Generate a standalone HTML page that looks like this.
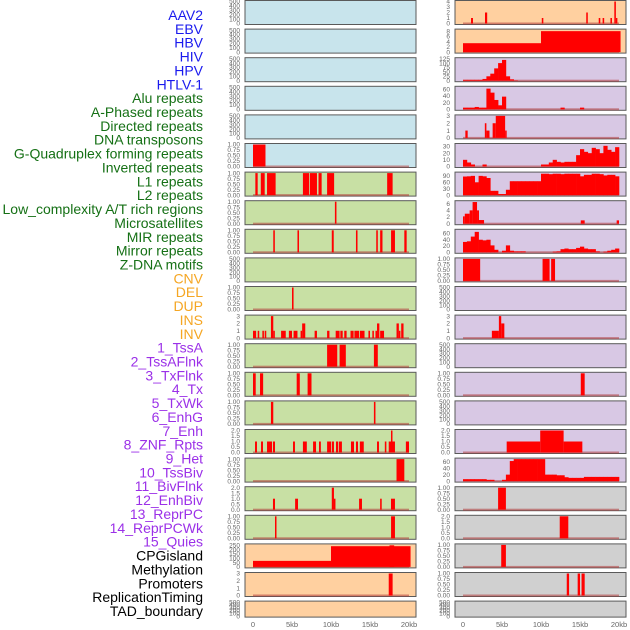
<!DOCTYPE html>
<html><head><meta charset="utf-8"><style>
html,body{margin:0;padding:0;background:#fff;width:630px;height:630px;overflow:hidden}
svg{display:block;font-family:"Liberation Sans",sans-serif}
</style></head><body>
<svg id="chart" width="630" height="630" viewBox="0 0 630 630"></svg>
<script>
// ---------- data ----------
const trackLabels = ["AAV2","EBV","HBV","HIV","HPV","HTLV-1","Alu repeats","A-Phased repeats","Directed repeats","DNA transposons","G-Quadruplex forming repeats","Inverted repeats","L1 repeats","L2 repeats","Low_complexity A/T rich regions","Microsatellites","MIR repeats","Mirror repeats","Z-DNA motifs","CNV","DEL","DUP","INS","INV","1_TssA","2_TssAFlnk","3_TxFlnk","4_Tx","5_TxWk","6_EnhG","7_Enh","8_ZNF_Rpts","9_Het","10_TssBiv","11_BivFlnk","12_EnhBiv","13_ReprPC","14_ReprPCWk","15_Quies","CPGisland","Methylation","Promoters","ReplicationTiming","TAD_boundary"];
const labelGroups = ["virus","virus","virus","virus","virus","virus","repeat","repeat","repeat","repeat","repeat","repeat","repeat","repeat","repeat","repeat","repeat","repeat","repeat","sv","sv","sv","sv","sv","chrom","chrom","chrom","chrom","chrom","chrom","chrom","chrom","chrom","chrom","chrom","chrom","chrom","chrom","chrom","other","other","other","other","other"];
const xTickValues = [0,5,10,15,20];
const xTickLabels = ["0","5kb","10kb","15kb","20kb"];
const ticks500 = ["0","100","200","300","400","500"];
const ticks1 = ["0.00","0.25","0.50","0.75","1.00"];
const ticks2 = ["0.0","0.5","1.0","1.5","2.0"];
const ticks3 = ["0","1","2","3"];
// intervals: [startKb, endKb, value]
const htlvBars = [[0,1.6,1]];
const aluBars = [[0.3,0.6,1],[1.0,1.5,1],[1.8,2.9,1],[6.4,7.2,1],[7.3,8.2,1],[8.4,8.8,1],[9.5,10.4,1],[17.2,17.9,1]];
const aphasedBars = [[10.5,10.7,1]];
const directedBars = [[2.6,2.8,1],[5.7,5.9,1],[10.1,10.35,1],[13.2,13.4,1],[15.8,16,1],[16.3,16.6,1],[17.7,18.2,1],[19.4,19.7,1]];
const gquadBars = [[5.0,5.2,1]];
const invertedBars = [[0,0.4,1],[0.6,0.8,1],[1.2,1.4,1],[1.5,1.7,1],[2.3,2.6,3],[2.6,2.8,1],[3.6,4.2,1],[4.6,5.0,1],[5.2,5.7,1],[6.1,6.3,1],[6.3,6.7,2],[7.9,8.2,1],[9.5,9.8,1],[10.6,11.1,1],[11.2,11.5,1],[11.7,12.0,1],[12.5,12.9,1],[13.0,13.6,1],[13.7,14.3,1],[14.8,15.0,1],[15.3,15.5,1],[15.7,15.9,1],[15.9,16.2,2],[16.3,16.8,1],[18.4,18.7,2],[18.7,18.9,1],[19.0,19.3,2]];
const l1Bars = [[9.5,10.8,1],[11.1,11.9,1],[15.5,16.0,1]];
const l2Bars = [[0,0.35,1],[0.9,1.3,1],[5.6,6.0,1],[7.0,7.5,1]];
const lowCompBars = [[2.3,2.6,1],[15.5,15.7,1]];
const microBars = [[0.26,0.51,1],[1.03,1.28,1],[1.8,2.05,1],[2.05,2.44,1],[2.56,2.82,1],[5.13,5.38,1],[6.4,6.9,1],[7.7,8.08,1],[8.46,8.7,1],[9.5,10.0,1],[10.1,10.38,1],[10.64,10.9,1],[11.0,11.4,1],[12.56,12.95,1],[13.2,13.46,1],[13.7,14.2,1],[15.9,16.15,1],[16.9,17.1,1],[17.4,18.2,1],[17.69,17.82,2],[19.6,20.0,1]];
const mirBars = [[18.4,19.4,1]];
const mirrorBars = [[2.56,2.82,1],[5.4,5.77,1],[10.1,10.38,2],[10.38,10.5,1],[13.6,13.97,1],[16.3,16.5,1],[17.69,18.2,1]];
const zdnaBars = [[2.82,3.0,1],[17.7,18.2,1]];
const cnvBars = [[0,10,70],[10,20.2,240],[17.5,18.1,250]];
const delBars = [[17.4,17.9,3]];
const insBars = [[1.03,1.28,1],[2.82,3.1,2],[10.1,10.3,1],[15.8,16.0,2],[17.4,17.6,1],[17.9,18.1,1],[18.9,19.1,1],[19.4,19.6,4],[19.6,19.75,1]];
const invBars = [[0,10,3.4],[10,20.2,8]];
// 0.5kb bins from 0 to 20kb
const tssaBins = [5,5,5,5,5,10,25,40,70,100,118,25,8,2,0,0,0,0,0,0,0,0,0,0,0,0,0,0,0,0,0,0,0,0,0,0,0,0,0,0];
const tssaflnkBins = [5,5,5,7,5,5,62,50,28,12,38,0,0,0,0,0,0,0,0,0,0,0,0,0,0,5,0,0,0,0,5,0,0,0,0,0,0,0,0,0];
const txflnkBars = [[0.3,0.6,1],[2.8,3.0,2],[3.0,3.4,1],[3.8,4.2,2],[4.2,5.4,3],[5.4,5.6,1]];
const txBins = [10,6,3,0,0,3,0,0,0,0,0,0,0,0,0,0,0,0,0,0,3,3,6,10,7,6,7,7,7,17,26,22,20,28,26,20,31,25,22,29];
const txwkBins = [87,88,90,60,90,88,80,20,20,5,5,25,65,65,65,65,65,65,65,65,100,100,98,100,100,98,100,100,100,100,88,95,95,100,100,98,92,95,95,88];
const enhgBars = [[0,0.23,2.2],[0.23,0.85,3],[0.85,1.23,4],[1.23,1.8,6.5],[1.8,2.05,4],[2.05,2.7,1.1],[15.1,15.6,1],[19.7,20,1]];
const enhBins = [33,35,50,65,40,38,40,22,8,0,5,22,5,3,3,3,0,0,0,0,0,0,0,2,3,10,12,10,10,14,18,12,10,10,3,0,2,5,8,12];
const znfBars = [[0,2.2,1],[10.2,11.1,1],[11.3,11.8,1]];
const tssbivBars = [[3.7,4.6,1],[4.6,4.9,3],[4.9,5.3,2]];
const enhbivBars = [[15.1,15.6,1]];
const reprpcwkBars = [[5.6,9.9,1],[9.9,12.9,2],[12.9,15.3,1]];
const quiesBins = [6,6,6,6,6,6,4,4,0,0,4,20,62,68,68,68,68,68,68,68,68,20,20,20,18,18,12,10,10,10,10,13,13,13,13,13,13,13,13,13];
const cpgBars = [[4.5,5.5,1]];
const methBars = [[12.4,13.5,2]];
const promoterBars = [[4.9,5.5,1]];
const replBars = [[13.3,13.6,1],[14.7,15.0,1],[15.2,15.6,1]];

// ---------- layout config ----------
const BG = {virus:"#c8e4ec", repeat:"#c8e0a4", sv:"#ffd0a0", chrom:"#d8c8e4", other:"#d0d0d0"};
const LABEL_COLOR = {virus:"#1a1aee", repeat:"#157015", sv:"#f5a623", chrom:"#9b30e8", other:"#000"};
const panels = [
 {col:0,row:0,g:"virus",ticks:ticks500,ymax:500},
 {col:0,row:1,g:"virus",ticks:ticks500,ymax:500},
 {col:0,row:2,g:"virus",ticks:ticks500,ymax:500},
 {col:0,row:3,g:"virus",ticks:ticks500,ymax:500},
 {col:0,row:4,g:"virus",ticks:ticks500,ymax:500},
 {col:0,row:5,g:"virus",ticks:ticks1,ymax:1,bars:htlvBars},
 {col:0,row:6,g:"repeat",ticks:ticks1,ymax:1,bars:aluBars},
 {col:0,row:7,g:"repeat",ticks:ticks1,ymax:1,bars:aphasedBars},
 {col:0,row:8,g:"repeat",ticks:ticks1,ymax:1,bars:directedBars},
 {col:0,row:9,g:"repeat",ticks:ticks500,ymax:500},
 {col:0,row:10,g:"repeat",ticks:ticks1,ymax:1,bars:gquadBars},
 {col:0,row:11,g:"repeat",ticks:ticks3,ymax:3,bars:invertedBars},
 {col:0,row:12,g:"repeat",ticks:ticks1,ymax:1,bars:l1Bars},
 {col:0,row:13,g:"repeat",ticks:ticks1,ymax:1,bars:l2Bars},
 {col:0,row:14,g:"repeat",ticks:ticks1,ymax:1,bars:lowCompBars},
 {col:0,row:15,g:"repeat",ticks:ticks2,ymax:2,bars:microBars},
 {col:0,row:16,g:"repeat",ticks:ticks1,ymax:1,bars:mirBars},
 {col:0,row:17,g:"repeat",ticks:ticks2,ymax:2,bars:mirrorBars},
 {col:0,row:18,g:"repeat",ticks:ticks1,ymax:1,bars:zdnaBars},
 {col:0,row:19,g:"sv",ticks:["0","50","100","150","200","250"],ymax:255,bars:cnvBars},
 {col:0,row:20,g:"sv",ticks:ticks3,ymax:3,bars:delBars},
 {col:0,row:21,g:"sv",ticks:ticks500,ymax:500},
 {col:1,row:0,g:"sv",ticks:["0","1","2","3","4"],ymax:4,bars:insBars},
 {col:1,row:1,g:"sv",ticks:["0","2","4","6","8"],ymax:8.4,bars:invBars},
 {col:1,row:2,g:"chrom",ticks:["0","25","50","75","100","125"],ymax:125,bins:tssaBins},
 {col:1,row:3,g:"chrom",ticks:["0","20","40","60"],ymax:66,bins:tssaflnkBins},
 {col:1,row:4,g:"chrom",ticks:ticks3,ymax:3,bars:txflnkBars},
 {col:1,row:5,g:"chrom",ticks:["0","10","20","30"],ymax:33,bins:txBins},
 {col:1,row:6,g:"chrom",ticks:["0","30","60","90"],ymax:103,bins:txwkBins},
 {col:1,row:7,g:"chrom",ticks:["0","2","4","6"],ymax:6.6,bars:enhgBars},
 {col:1,row:8,g:"chrom",ticks:["0","20","40","60"],ymax:70,bins:enhBins},
 {col:1,row:9,g:"chrom",ticks:ticks1,ymax:1,bars:znfBars},
 {col:1,row:10,g:"chrom",ticks:ticks500,ymax:500},
 {col:1,row:11,g:"chrom",ticks:ticks3,ymax:3,bars:tssbivBars},
 {col:1,row:12,g:"chrom",ticks:ticks500,ymax:500},
 {col:1,row:13,g:"chrom",ticks:ticks1,ymax:1,bars:enhbivBars},
 {col:1,row:14,g:"chrom",ticks:ticks500,ymax:500},
 {col:1,row:15,g:"chrom",ticks:ticks2,ymax:2,bars:reprpcwkBars},
 {col:1,row:16,g:"chrom",ticks:["0","20","40","60"],ymax:68,bins:quiesBins},
 {col:1,row:17,g:"other",ticks:ticks1,ymax:1,bars:cpgBars},
 {col:1,row:18,g:"other",ticks:ticks2,ymax:2,bars:methBars},
 {col:1,row:19,g:"other",ticks:ticks1,ymax:1,bars:promoterBars},
 {col:1,row:20,g:"other",ticks:ticks1,ymax:1,bars:replBars},
 {col:1,row:21,g:"other",ticks:ticks500,ymax:500}
];

const NS = "http://www.w3.org/2000/svg";
const svg = document.getElementById("chart");
function mk(tag, attrs, parent){
  const e = document.createElementNS(NS, tag);
  for (const k in attrs) e.setAttribute(k, attrs[k]);
  (parent||svg).appendChild(e);
  return e;
}
const COL_X = [245, 455];
const PW = 171;
function xScale(col, kb){ return COL_X[col] + 8 + kb * 7.8; }
function rowTop(r){ return 0.5 + r * 28.6; }
function rowH(r){ return r === 21 ? 16 : 24; }
function yScale(p, v){
  const top = rowTop(p.row), h = rowH(p.row);
  return top + h - 1 - (v / p.ymax) * (h - 2);
}

// labels
trackLabels.forEach((t, i) => {
  const el = mk("text", {x:203, y:15 + i*13.86 + 5, "text-anchor":"end", "font-size":"14", fill:LABEL_COLOR[labelGroups[i]]});
  el.textContent = t;
  
  
});

// panels
panels.forEach((p, idx) => {
  const g = mk("g", {});
  
  
  const top = rowTop(p.row), h = rowH(p.row);
  const bg = mk("rect", {x:COL_X[p.col], y:top, width:PW, height:h, fill:BG[p.g], stroke:"#5a5a5a", "stroke-width":1}, g);
  
  
  // ticks
  const n = p.ticks.length;
  p.ticks.forEach((t) => {
    const v = parseFloat(t);
    const ty = yScale(p, v);
    const tx = mk("text", {x:COL_X[p.col]-5, y:ty+2.2, "text-anchor":"end", "font-size":"6.5", fill:"#666"}, g);
    tx.textContent = t;
    
    
  });
  const hasData = p.bars || p.bins;
  if (hasData) {
    const base = mk("rect", {x:xScale(p.col,0), y:yScale(p,0)-1, width:xScale(p.col,20)-xScale(p.col,0), height:2, fill:"#b03a3a", opacity:0.55}, g);
    
    
  }
  if (p.bins) {
    p.bins.forEach((v, i) => {
      if (v <= 0) return;
      const x0 = xScale(p.col, i*0.5), x1 = xScale(p.col, (i+1)*0.5);
      const y0 = yScale(p, v), yb = yScale(p, 0);
      const r = mk("rect", {x:x0, y:y0, width:x1-x0+0.3, height:yb-y0, fill:"#ff0000"}, g);
      
      
    });
  }
  if (p.bars) {
    p.bars.forEach(b => {
      const x0 = xScale(p.col, b[0]), x1 = xScale(p.col, b[1]);
      const y0 = yScale(p, b[2]), yb = yScale(p, 0);
      const r = mk("rect", {x:x0, y:y0, width:Math.max(1.5, x1-x0), height:yb-y0, fill:"#ff0000"}, g);
      
      
    });
  }
});

// x axes
[0,1].forEach(col => {
  xTickValues.forEach((v, i) => {
    const t = mk("text", {x:xScale(col, v), y:627, "text-anchor":"middle", "font-size":"7.5", fill:"#666"});
    t.textContent = xTickLabels[i];
    
    
  });
});
</script>
</body></html>
